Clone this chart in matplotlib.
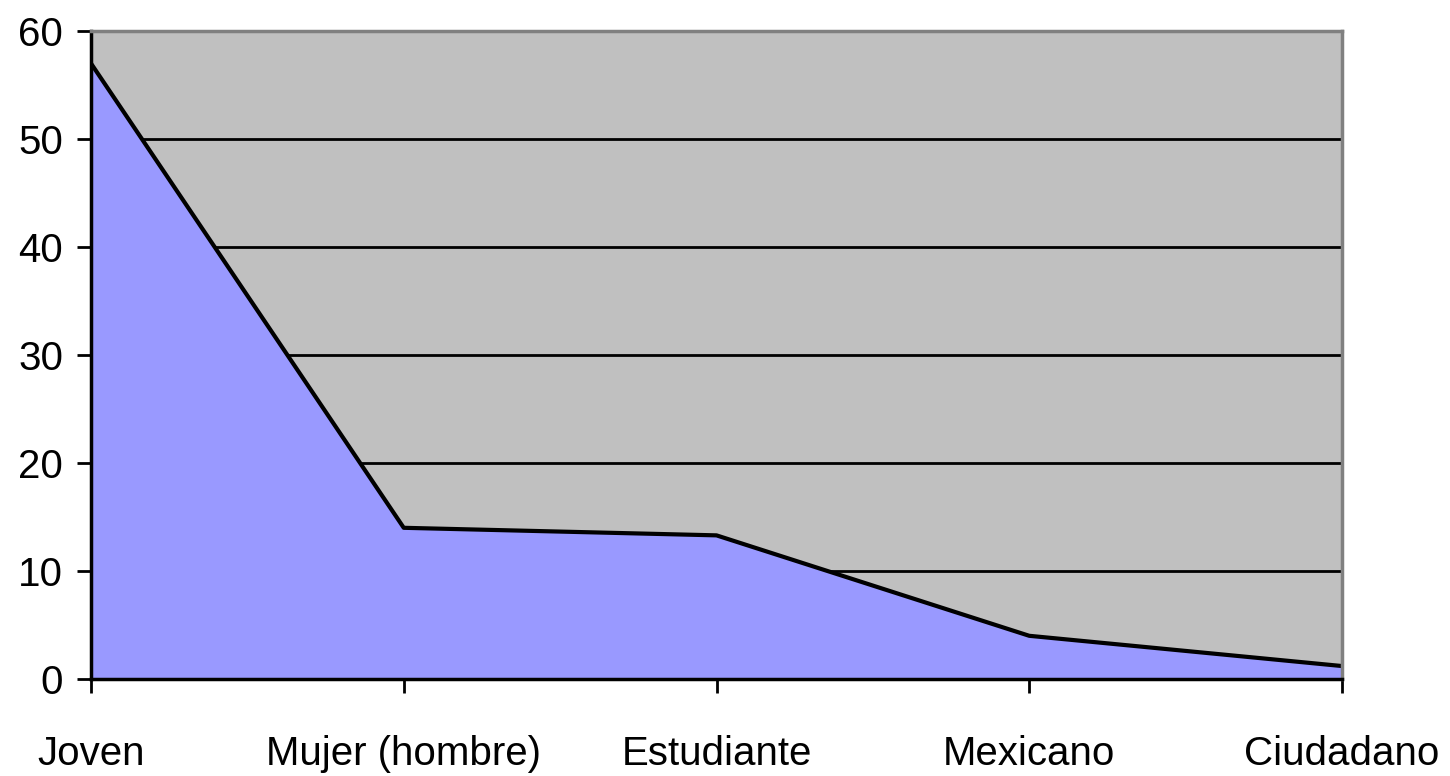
import matplotlib
matplotlib.use("Agg")
import matplotlib.pyplot as plt

# Datos
categorias = ["Joven", "Mujer (hombre)", "Estudiante", "Mexicano", "Ciudadano"]
valores = [57, 14, 13.3, 4, 1.2]

plt.rcParams['font.family'] = ['Liberation Sans', 'DejaVu Sans']

fig = plt.figure(figsize=(14.5, 7.76), dpi=100)
ax = fig.add_axes([91 / 1450, 1 - 679 / 776, (1342 - 91) / 1450, (679 - 31) / 776])

x = list(range(len(categorias)))
ax.set_facecolor('#C0C0C0')
ax.fill_between(x, valores, 0, color='#9999FF', zorder=2)
ax.plot(x, valores, color='black', linewidth=3, zorder=3)

# Líneas de cuadrícula horizontales
for v in range(10, 60, 10):
    ax.axhline(v, color='black', linewidth=2, zorder=1)

ax.set_xlim(0, len(categorias) - 1)
ax.set_ylim(0, 60)
ax.set_yticks(range(0, 61, 10))
ax.set_xticks(x)
ax.set_xticklabels(categorias)

ax.tick_params(axis='both', labelsize=29, width=2, length=10, direction='out', colors='black')
ax.tick_params(axis='x', pad=30)
ax.tick_params(axis='y', pad=10)

ax.spines['left'].set_linewidth(2.5)
ax.spines['bottom'].set_linewidth(2.5)
ax.spines['top'].set_color('#808080')
ax.spines['right'].set_color('#808080')
ax.spines['top'].set_linewidth(2.5)
ax.spines['right'].set_linewidth(2.5)
for s in ax.spines.values():
    s.set_zorder(4)

fig.savefig("out.png", dpi=100)
